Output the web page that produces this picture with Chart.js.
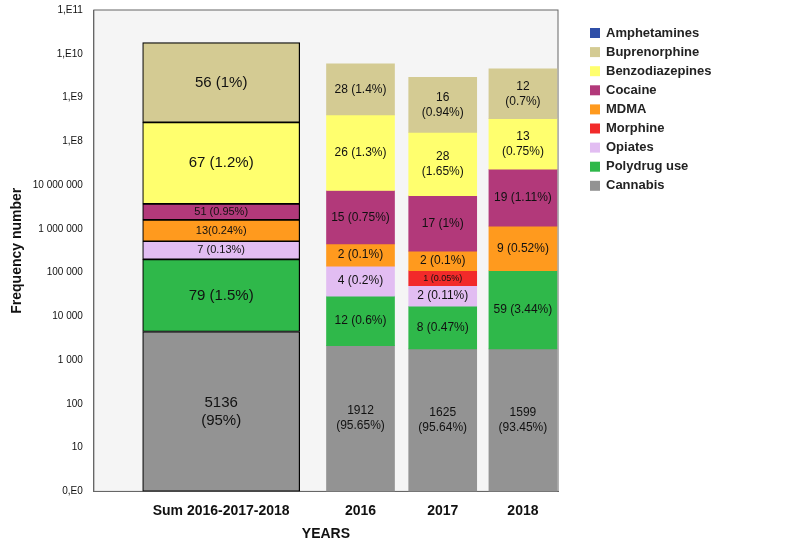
<!DOCTYPE html>
<html><head><meta charset="utf-8">
<script src="https://cdn.jsdelivr.net/npm/chart.js@4"></script>
<style>body{margin:0;background:#fff}#w{width:786px;height:557px}</style>
</head><body><div id="w"><canvas id="c"></canvas></div>
<script>
const categories = ["Sum 2016-2017-2018", "2016", "2017", "2018"];
const drugs = ["Amphetamines","Buprenorphine","Benzodiazepines","Cocaine","MDMA","Morphine","Opiates","Polydrug use","Cannabis"];
const colors = ["#2f4fa8","#d4cb93","#ffff6e","#b2397a","#ff9a1e","#f22a2a","#e2bdf2","#2fb84a","#939393"];
const topsCannabis = [4500, 2150, 1800, 1800];
const topsPolydrug = [200000, 29000, 17000, 110000];
const topsOpiates = [520000, 140000, 50000, null];
const topsMorphine = [null, null, 110000, null];
const topsMDMA = [1.6e6, 4.5e5, 3.1e5, 1.15e6];
const topsCocaine = [3.7e6, 7.5e6, 5.7e6, 2.3e7];
const topsBenzo = [2.7e8, 4e8, 1.6e8, 3.3e8];
const topsBupr = [1.8e10, 5.9e9, 2.9e9, 4.5e9];
const labCannabis = ["5136\n(95%)","1912\n(95.65%)","1625\n(95.64%)","1599\n(93.45%)"];
const labPolydrug = ["79 (1.5%)","12 (0.6%)","8 (0.47%)","59 (3.44%)"];
const labOpiates = ["7 (0.13%)","4 (0.2%)","2 (0.11%)",""];
const labMorphine = ["","","1 (0.05%)",""];
const labMDMA = ["13(0.24%)","2 (0.1%)","2 (0.1%)","9 (0.52%)"];
const labCocaine = ["51 (0.95%)","15 (0.75%)","17 (1%)","19 (1.11%)"];
const labBenzo = ["67 (1.2%)","26 (1.3%)","28\n(1.65%)","13\n(0.75%)"];
const labBupr = ["56 (1%)","28 (1.4%)","16\n(0.94%)","12\n(0.7%)"];
const xPos = [127, 266, 348, 428];
const yTickLabels = {1:"0,E0",10:"10",100:"100",1000:"1 000",1e4:"10 000",1e5:"100 000",1e6:"1 000 000",1e7:"10 000 000",1e8:"1,E8",1e9:"1,E9",1e10:"1,E10",1e11:"1,E11"};

const stackOrder = [
 ["Cannabis", topsCannabis, labCannabis],
 ["Polydrug use", topsPolydrug, labPolydrug],
 ["Opiates", topsOpiates, labOpiates],
 ["Morphine", topsMorphine, labMorphine],
 ["MDMA", topsMDMA, labMDMA],
 ["Cocaine", topsCocaine, labCocaine],
 ["Benzodiazepines", topsBenzo, labBenzo],
 ["Buprenorphine", topsBupr, labBupr]
];
const segs = {};
const prev = [1,1,1,1];
stackOrder.forEach(([n,tops,labs])=>{
  segs[n] = tops.map((t,i)=>{ if(t==null) return null; const r=[prev[i],t,labs[i]]; prev[i]=t; return r; });
});
const datasets = [];
drugs.forEach((n,k)=>{
  const s = segs[n] || [null,null,null,null];
  datasets.push({label:n, backgroundColor:colors[k], borderWidth:0, barThickness:68, grouped:false,
    data:[1,2,3].filter(i=>s[i]).map(i=>({x:xPos[i], y:[s[i][0],s[i][1]], lab:s[i][2], big:false}))});
});
drugs.forEach((n,k)=>{
  const s = segs[n] || [null];
  datasets.push({label:"_sum_"+n, backgroundColor:colors[k], borderColor:"#000", borderWidth:1.2, borderSkipped:false, barThickness:157, grouped:false,
    data: s[0] ? [{x:xPos[0], y:[s[0][0],s[0][1]], lab:s[0][2], big:true}] : []});
});
const labelPlugin = {id:"labs", afterDatasetsDraw(chart){
  const ctx=chart.ctx; ctx.save(); ctx.fillStyle="#111"; ctx.textAlign="center"; ctx.textBaseline="middle";
  chart.data.datasets.forEach((ds,di)=>{
    const meta=chart.getDatasetMeta(di);
    meta.data.forEach((el,j)=>{
      const d=ds.data[j]; if(!d.lab) return;
      const lines=d.lab.split("\n");
      const h=Math.abs(el.base-el.y);
      let fs = d.big?(h<22?11:15):12; if(ds.label.endsWith("Morphine")) fs=9;
      ctx.font = fs+"px Arial, 'Liberation Sans'";
      const cy=(el.y+el.base)/2, lh=fs+3;
      lines.forEach((L,q)=>ctx.fillText(L, el.x, cy+(q-(lines.length-1)/2)*lh));
    });
  });
  ctx.textAlign="left"; ctx.font="bold 13px Arial, 'Liberation Sans'";
  drugs.forEach((n,k)=>{
    const y=33+k*19.1;
    ctx.fillStyle=colors[k]; ctx.fillRect(590,y-5,10,10);
    ctx.fillStyle="#222"; ctx.fillText(n,606,y);
  });
  ctx.restore();
}};
const bgPlugin={id:"bg",beforeDraw(chart){const a=chart.chartArea,c=chart.ctx;c.save();c.fillStyle="#f5f5f5";c.fillRect(a.left,a.top,a.right-a.left,a.bottom-a.top);c.strokeStyle="#666";c.lineWidth=1;c.strokeRect(a.left,a.top,a.right-a.left,a.bottom-a.top);c.restore();}};
new Chart(document.getElementById("c"),{type:"bar",data:{datasets},
 options:{responsive:true,maintainAspectRatio:false,animation:false,parsing:{xAxisKey:"x",yAxisKey:"y"},
  layout:{padding:{top:10,left:5,right:228,bottom:10}},
  plugins:{tooltip:{enabled:false},legend:{display:false}},
  scales:{
   x:{type:"linear",min:0,max:463,offset:false,grid:{display:false},border:{color:"#666"},
     afterBuildTicks(ax){ax.ticks=xPos.map(v=>({value:v}));},
     ticks:{autoSkip:false,maxRotation:0,color:"#111",font:{size:14,weight:"bold",family:"Arial, 'Liberation Sans'"},callback:(v)=>categories[xPos.indexOf(v)]||""},
     title:{display:true,text:"YEARS",color:"#111",font:{size:14,weight:"bold",family:"Arial, 'Liberation Sans'"}}},
   y:{type:"logarithmic",min:1,max:1e11,grid:{display:false},border:{color:"#666"},
     afterBuildTicks(ax){ax.ticks=Object.keys(yTickLabels).map(v=>({value:+v}));},
     ticks:{autoSkip:false,color:"#111",font:{size:10,family:"Arial, 'Liberation Sans'"},callback:v=>yTickLabels[v]||""},
     title:{display:true,text:"Frequency number",color:"#111",font:{size:14,weight:"bold",family:"Arial, 'Liberation Sans'"}}}
  }},plugins:[bgPlugin,labelPlugin]});
</script></body></html>
